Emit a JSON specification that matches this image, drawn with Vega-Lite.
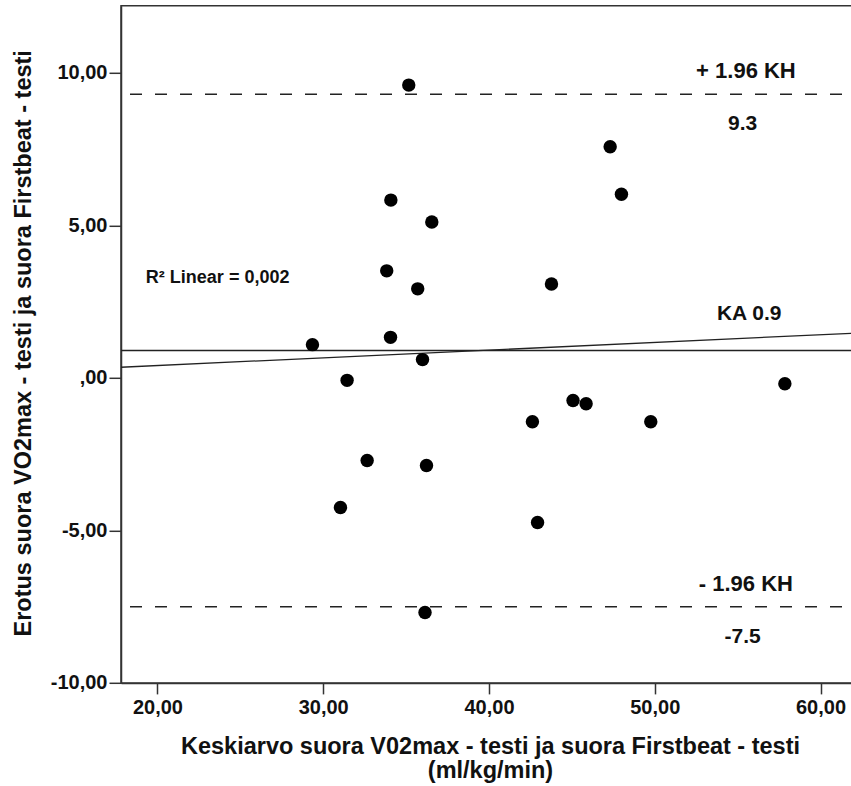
{
  "$schema": "https://vega.github.io/schema/vega-lite/v6.json",
  "autosize": {"type": "none"},
  "padding": {"left": 121, "top": 5.8, "right": 0, "bottom": 103.1},
  "width": 731,
  "height": 677.1,
  "background": "white",
  "config": {
    "font": "Liberation Sans",
    "view": {"stroke": "#333333", "strokeWidth": 1.5},
    "axis": {
      "grid": false,
      "domainColor": "#333333",
      "domainWidth": 1.5,
      "tickColor": "#333333",
      "tickWidth": 1.5,
      "labelFont": "Liberation Sans",
      "labelFontWeight": "bold",
      "labelFontSize": 20,
      "labelColor": "#111111",
      "titleFont": "Liberation Sans",
      "titleFontWeight": "bold",
      "titleFontSize": 23.5,
      "titleColor": "#111111"
    }
  },
  "datasets": {
    "points": [
      {"mean": 35.16, "diff": 9.60},
      {"mean": 34.08, "diff": 5.83},
      {"mean": 36.55, "diff": 5.11},
      {"mean": 33.83, "diff": 3.51},
      {"mean": 35.70, "diff": 2.92},
      {"mean": 29.35, "diff": 1.09},
      {"mean": 34.06, "diff": 1.33},
      {"mean": 35.99, "diff": 0.60},
      {"mean": 31.44, "diff": -0.08},
      {"mean": 32.65, "diff": -2.71},
      {"mean": 36.23, "diff": -2.87},
      {"mean": 31.04, "diff": -4.25},
      {"mean": 36.14, "diff": -7.69},
      {"mean": 47.31, "diff": 7.58},
      {"mean": 47.99, "diff": 6.02},
      {"mean": 43.77, "diff": 3.08},
      {"mean": 45.07, "diff": -0.74},
      {"mean": 45.86, "diff": -0.85},
      {"mean": 42.62, "diff": -1.44},
      {"mean": 49.76, "diff": -1.44},
      {"mean": 42.93, "diff": -4.74},
      {"mean": 57.85, "diff": -0.19}
    ],
    "limits": [
      {"kind": "loa", "name": "+ 1.96 KH", "value": 9.3, "label": "9.3"},
      {"kind": "loa", "name": "- 1.96 KH", "value": -7.5, "label": "-7.5"},
      {"kind": "mean", "name": "KA", "value": 0.9, "label": "KA 0.9"}
    ]
  },
  "layer": [
    {
      "data": {"name": "limits"},
      "transform": [{"filter": "datum.kind == 'loa'"}],
      "mark": {"type": "rule", "color": "#222222", "strokeWidth": 1.5, "strokeDash": [12, 13], "strokeDashOffset": 15},
      "encoding": {
        "y": {"field": "value", "type": "quantitative", "scale": {"domain": [-10, 12.2], "nice": false, "zero": false}}
      }
    },
    {
      "data": {"name": "limits"},
      "transform": [{"filter": "datum.kind == 'mean'"}],
      "mark": {"type": "rule", "color": "#222222", "strokeWidth": 1.5},
      "encoding": {
        "y": {"field": "value", "type": "quantitative"}
      }
    },
    {
      "data": {"name": "points"},
      "transform": [{"regression": "diff", "on": "mean", "extent": [17.8, 61.9]}],
      "mark": {"type": "line", "color": "#222222", "strokeWidth": 1.3, "clip": true},
      "encoding": {
        "x": {"field": "mean", "type": "quantitative"},
        "y": {"field": "diff", "type": "quantitative"}
      }
    },
    {
      "data": {"name": "limits"},
      "transform": [{"filter": "datum.kind == 'loa'"}],
      "mark": {"type": "text", "fontSize": 22, "fontWeight": "bold", "color": "#111111", "align": "center", "baseline": "middle", "dy": -23},
      "encoding": {
        "x": {"datum": 55.5},
        "y": {"field": "value", "type": "quantitative"},
        "text": {"field": "name"}
      }
    },
    {
      "data": {"name": "limits"},
      "transform": [{"filter": "datum.kind == 'loa'"}],
      "mark": {"type": "text", "fontSize": 21, "fontWeight": "bold", "color": "#111111", "align": "center", "baseline": "middle", "dy": 30},
      "encoding": {
        "x": {"datum": 55.3},
        "y": {"field": "value", "type": "quantitative"},
        "text": {"field": "label"}
      }
    },
    {
      "data": {"name": "limits"},
      "transform": [{"filter": "datum.kind == 'mean'"}],
      "mark": {"type": "text", "fontSize": 21, "fontWeight": "bold", "color": "#111111", "align": "center", "baseline": "middle", "dy": -36},
      "encoding": {
        "x": {"datum": 55.7},
        "y": {"field": "value", "type": "quantitative"},
        "text": {"field": "label"}
      }
    },
    {
      "data": {"values": [{"text": "R² Linear = 0,002"}]},
      "mark": {"type": "text", "fontSize": 18, "fontWeight": "bold", "color": "#111111", "align": "left", "baseline": "middle"},
      "encoding": {
        "x": {"datum": 19.3},
        "y": {"datum": 3.26},
        "text": {"field": "text"}
      }
    },
    {
      "data": {"name": "points"},
      "mark": {"type": "circle", "size": 180, "color": "#000000", "opacity": 1},
      "encoding": {
        "x": {
          "field": "mean",
          "type": "quantitative",
          "scale": {"domain": [17.8, 61.9], "nice": false, "zero": false},
          "axis": {
            "values": [20, 30, 40, 50, 60],
            "labelExpr": "replace(format(datum.value, '.2f'), '.', ',')",
            "tickSize": 11,
            "labelPadding": 4,
            "title": ["Keskiarvo suora V02max - testi ja suora Firstbeat - testi", "(ml/kg/min)"],
            "titleLineHeight": 24,
            "titleBaseline": "top",
            "titleY": 52,
            "titleX": 369
          }
        },
        "y": {
          "field": "diff",
          "type": "quantitative",
          "axis": {
            "values": [-10, -5, 0, 5, 10],
            "labelExpr": "datum.value == 0 ? ',00' : replace(replace(format(datum.value, '.2f'), '.', ','), '\u2212', '-')",
            "tickSize": 12,
            "labelPadding": 2,
            "title": "Erotus suora VO2max - testi ja suora Firstbeat - testi",
            "titleAngle": -90,
            "titleAlign": "center",
            "titleBaseline": "middle",
            "titleX": -98,
            "titleY": 337
          }
        }
      }
    }
  ]
}
